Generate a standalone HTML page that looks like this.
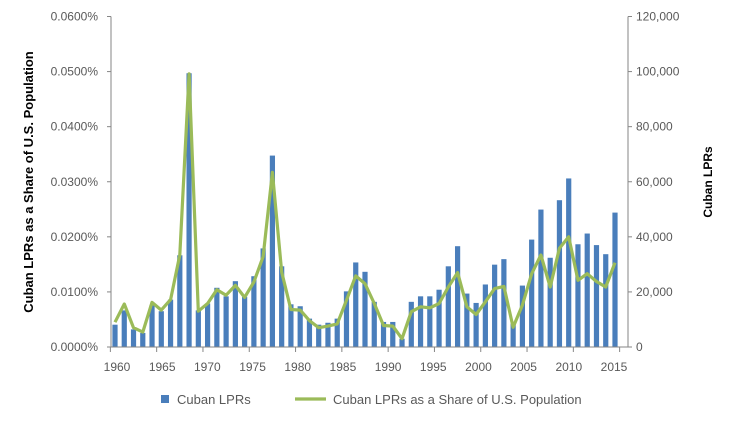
<!DOCTYPE html>
<html><head><meta charset="utf-8"><style>
body{margin:0;background:#fff;font-family:"Liberation Sans",Arial,sans-serif}
svg text{font-family:"Liberation Sans",Arial,sans-serif}
</style></head><body>
<svg id="chart" width="737" height="423" xmlns="http://www.w3.org/2000/svg"></svg>
<script>
const years=[1960,1961,1962,1963,1964,1965,1966,1967,1968,1969,1970,1971,1972,1973,1974,1975,1976,1977,1978,1979,1980,1981,1982,1983,1984,1985,1986,1987,1988,1989,1990,1991,1992,1993,1994,1995,1996,1997,1998,1999,2000,2001,2002,2003,2004,2005,2006,2007,2008,2009,2010,2011,2012,2013,2014];
const lprs=[8100,13300,6400,5100,15200,13000,17200,33300,99400,13300,15800,21500,18400,23900,18200,25700,35800,69500,29300,15500,14800,10300,8100,8800,10300,20200,30700,27300,16400,9100,9100,3000,16400,18400,18400,20800,29300,36600,19400,16000,22700,29900,31900,8500,22300,39000,49900,32400,53300,61200,37300,41200,37000,33700,48800];
const share=[0.0045,0.0078,0.0035,0.0027,0.0081,0.0067,0.0086,0.0167,0.0496,0.0065,0.0079,0.0104,0.0094,0.0112,0.0090,0.0118,0.0164,0.0317,0.0136,0.0068,0.0067,0.0048,0.0035,0.0038,0.0042,0.0085,0.0129,0.0115,0.0079,0.0039,0.0038,0.0015,0.0064,0.0073,0.0071,0.0079,0.0109,0.0135,0.0073,0.0059,0.0082,0.0106,0.0110,0.0036,0.0076,0.0133,0.0167,0.0109,0.0179,0.0200,0.0121,0.0133,0.0119,0.0109,0.0153];
const leftTicks=["0.0000%","0.0100%","0.0200%","0.0300%","0.0400%","0.0500%","0.0600%"];
const rightTicks=["0","20,000","40,000","60,000","80,000","100,000","120,000"];
const xLabels=[1960,1965,1970,1975,1980,1985,1990,1995,2000,2005,2010,2015];

const svg=document.getElementById('chart');
const NS='http://www.w3.org/2000/svg';
const top0=16.5,base=347,left=111,right=628;
const yL=v=>base-(v/0.06)*(base-top0);
const yR=v=>base-(v/120000)*(base-top0);
const step=(615-115)/54;
const xC=i=>115+i*step;
function el(t,a,p){const e=document.createElementNS(NS,t);for(const k in a)e.setAttribute(k,a[k]);(p||svg).appendChild(e);return e;}

const gb=el('g',{});


lprs.forEach((v,i)=>{const r=el('rect',{x:xC(i)-2.6,y:yR(v),width:5.2,height:base-yR(v),fill:'#4a7ebb'},gb);

});
const pts=share.map((v,i)=>xC(i).toFixed(1)+','+yL(v).toFixed(1)).join(' ');
const ln=el('polyline',{points:pts,fill:'none',stroke:'#9bbb59',"stroke-width":3.2,"stroke-linejoin":'round'});


const ax=el('g',{stroke:'#868686',"stroke-width":1});


el('line',{x1:left,y1:top0,x2:left,y2:base},ax);
el('line',{x1:right,y1:top0,x2:right,y2:base},ax);
el('line',{x1:left,y1:base,x2:right,y2:base},ax);
leftTicks.forEach((t,k)=>{const y=yL(k*0.01);
el('line',{x1:left-4,y1:y,x2:left,y2:y},ax);
const tx=el('text',{x:98,y:y+4,"text-anchor":'end',"font-size":12,fill:'#595959'});tx.textContent=t;

});
rightTicks.forEach((t,k)=>{const y=yR(k*20000);
el('line',{x1:right,y1:y,x2:right+4,y2:y},ax);
const tx=el('text',{x:636,y:y+4,"font-size":12,fill:'#595959'});tx.textContent=t;

});
for(let i=0;i<=55;i+=5){const x=xC(i)-step/2;el('line',{x1:x,y1:base,x2:x,y2:base+5},ax);}
xLabels.forEach((t,k)=>{const tx=el('text',{x:117+k*(497/11),y:371,"text-anchor":'middle',"font-size":12,fill:'#595959'});tx.textContent=t;

});
const lt=el('text',{x:0,y:0,transform:'translate(33,182) rotate(-90)',"text-anchor":'middle',"font-size":13,"font-weight":'bold',fill:'#000'});
lt.textContent='Cuban LPRs as a Share of U.S. Population';


const rt=el('text',{x:0,y:0,transform:'translate(712,182) rotate(-90)',"text-anchor":'middle',"font-size":12,"font-weight":'bold',fill:'#000'});
rt.textContent='Cuban LPRs';


const lg=el('g',{});


el('rect',{x:161,y:395,width:8,height:8,fill:'#4a7ebb'},lg);
const l1=el('text',{x:177,y:404,"font-size":13,fill:'#595959'},lg);l1.textContent='Cuban LPRs';


el('line',{x1:295,y1:399,x2:326,y2:399,stroke:'#9bbb59',"stroke-width":3.2},lg);
const l2=el('text',{x:333,y:404,"font-size":13,fill:'#595959'},lg);l2.textContent='Cuban LPRs as a Share of U.S. Population';


</script>
</body></html>
